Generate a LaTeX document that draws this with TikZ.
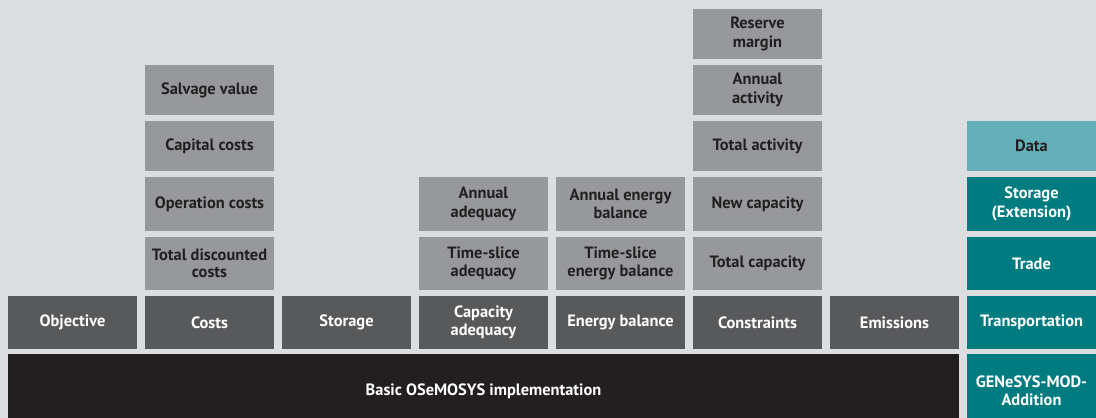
\documentclass[tikz,border=0pt]{standalone}
\usepackage{fontspec}
\setmainfont{PT Sans}
\definecolor{bgcol}{HTML}{DCDDDF}
\definecolor{lightgrey}{HTML}{97989C}
\definecolor{darkgrey}{HTML}{58595B}
\definecolor{basecol}{HTML}{231F20}
\definecolor{teal}{HTML}{007B80}
\definecolor{lightteal}{HTML}{64AFB8}

\begin{document}
\begin{tikzpicture}[x=1pt,y=-1pt]
  \tikzset{box/.style = {shape=rectangle,inner sep=0pt,minimum width=129pt,minimum height=53pt,align=center,font=\fontsize{16.4}{18.5}\selectfont\bfseries}}
  \tikzset{sub/.style = {box,fill=lightgrey,text=basecol}}
  \tikzset{module/.style = {box,fill=darkgrey,text=white}}
  \tikzset{addon/.style = {box,fill=teal,text=white}}
  \tikzset{short/.style = {minimum height=50pt}}

  \clip (0,0) rectangle (1096,418);
  \fill[bgcol] (0,0) rectangle (1096,418);

  % basic implementation (runs off the bottom edge)
  \node[box,fill=basecol,text=white,minimum width=951pt,minimum height=74pt] (Basic) at (483.5,391) {Basic OSeMOSYS implementation};

  % modules
  \node[module] (Obj) at (72.5,322.5) {Objective};
  \node[module] (Costs) at (209.5,322.5) {Costs};
  \node[module] (Stor) at (346.5,322.5) {Storage};
  \node[module] (CapAd) at (483.5,322.5) {Capacity\\adequacy};
  \node[module] (EnBal) at (620.5,322.5) {Energy balance};
  \node[module] (Constr) at (757.5,322.5) {Constraints};
  \node[module] (Emis) at (894.5,322.5) {Emissions};

  % costs
  \node[sub,font=\fontsize{16.4}{16.7}\selectfont\bfseries] (TotDisc) at (209.5,263.5) {Total discounted\\costs};
  \node[sub,minimum height=54pt] (OpCosts) at (209.5,204) {Operation costs};
  \node[sub,short] (CapCosts) at (209.5,146) {Capital costs};
  \node[sub,short] (Salv) at (209.5,90) {Salvage value};

  % capacity adequacy
  \node[sub] (TsAd) at (483.5,263.5) {Time-slice\\adequacy};
  \node[sub,minimum height=54pt] (AnAd) at (483.5,204) {Annual\\adequacy};

  % energy balance
  \node[sub] (TsBal) at (620.5,263.5) {Time-slice\\energy balance};
  \node[sub,minimum height=54pt] (AnBal) at (620.5,204) {Annual energy\\balance};

  % constraints
  \node[sub] (TotCap) at (757.5,263.5) {Total capacity};
  \node[sub,minimum height=54pt] (NewCap) at (757.5,204) {New capacity};
  \node[sub,short] (TotAct) at (757.5,146) {Total activity};
  \node[sub,short] (AnAct) at (757.5,90) {Annual\\activity};
  \node[sub,short] (Res) at (757.5,34) {Reserve\\margin};

  % GENeSYS-MOD additions
  \node[addon,minimum height=74pt] (Add) at (1031.5,391) {GENeSYS-MOD-\\Addition};
  \node[addon] (Trans) at (1031.5,322.5) {Transportation};
  \node[addon] (Trade) at (1031.5,263.5) {Trade};
  \node[addon,minimum height=54pt] (StorExt) at (1031.5,204) {Storage\\(Extension)};
  \node[addon,short,fill=lightteal,text=basecol] (Data) at (1031.5,146) {Data};
\end{tikzpicture}
\end{document}
